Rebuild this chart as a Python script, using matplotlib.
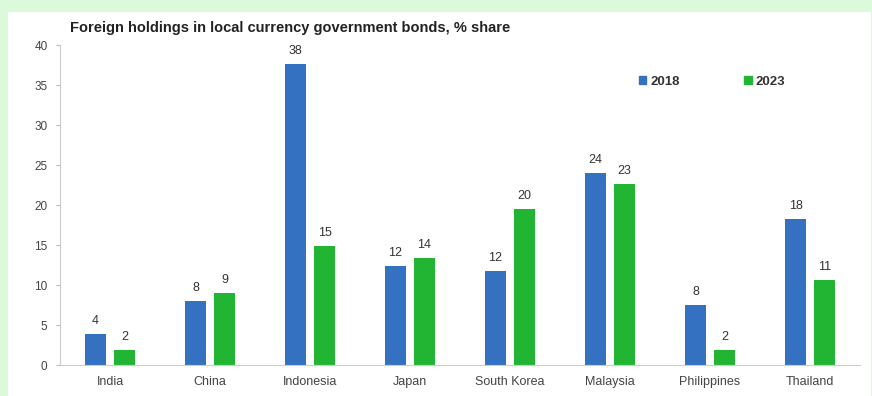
import matplotlib
matplotlib.use("Agg")
import matplotlib.pyplot as plt
from matplotlib.patches import Rectangle, Patch

plt.rcParams['font.family'] = ['Liberation Sans', 'DejaVu Sans']

categories = ["India", "China", "Indonesia", "Japan", "South Korea", "Malaysia", "Philippines", "Thailand"]
values_2018 = [3.9, 8.0, 37.6, 12.4, 11.7, 24.0, 7.5, 18.3]
values_2023 = [1.9, 9.0, 14.9, 13.4, 19.5, 22.6, 1.9, 10.6]
labels_2018 = ["4", "8", "38", "12", "12", "24", "8", "18"]
labels_2023 = ["2", "9", "15", "14", "20", "23", "2", "11"]
series_names = ["2018", "2023"]
yticks = [0, 5, 10, 15, 20, 25, 30, 35, 40]

W, H = 872, 396
fig = plt.figure(figsize=(W / 100, H / 100), dpi=100)
fig.patch.set_facecolor("#dcf9dc")
fig.patches.append(Rectangle((8 / W, 0), 1 - 9 / W, 1 - 12 / H, transform=fig.transFigure,
                             facecolor="white", edgecolor="none", zorder=-10))

ax = fig.add_axes([60 / W, 1 - 365 / H, 800 / W, 320 / H])
ax.set_facecolor("none")
ax.set_zorder(1)

blue = "#3571c1"
green = "#22b534"
width = 0.21
off = 0.145
x = list(range(len(categories)))

b1 = ax.bar([i - off for i in x], values_2018, width, color=blue)
b2 = ax.bar([i + off for i in x], values_2023, width, color=green)

for i in x:
    ax.annotate(labels_2018[i], (i - off, values_2018[i]), xytext=(0, 5), textcoords="offset points",
                ha="center", va="bottom", fontsize=9, color="#333333")
    ax.annotate(labels_2023[i], (i + off, values_2023[i]), xytext=(0, 5), textcoords="offset points",
                ha="center", va="bottom", fontsize=9, color="#333333")

ax.set_xlim(-0.5, len(categories) - 0.5)
ax.set_ylim(0, 40)
ax.set_yticks(yticks)
ax.set_xticks(x)
ax.set_xticklabels(categories)
ax.tick_params(axis="y", length=3, color="#bbbbbb", labelsize=8.5, labelcolor="#444444", pad=6)
ax.tick_params(axis="x", length=0, labelsize=9, labelcolor="#444444", pad=8)
for s in ["top", "right"]:
    ax.spines[s].set_visible(False)
for s in ["left", "bottom"]:
    ax.spines[s].set_color("#cccccc")
    ax.spines[s].set_linewidth(0.8)

leg = ax.legend([Patch(color=blue), Patch(color=green)], series_names, ncol=2,
                loc="upper left", bbox_to_anchor=((639 - 60) / 800, 1 - (76 - 45) / 320),
                frameon=False, handlelength=0.55, handleheight=0.55, handletextpad=0.3,
                columnspacing=4.9, borderaxespad=0, borderpad=0,
                prop={"weight": "bold", "size": 9.5})
for t in leg.get_texts():
    t.set_color("#333333")

fig.text(70 / W, 1 - 28 / H, "Foreign holdings in local currency government bonds, % share",
         fontsize=10.5, fontweight="bold", color="#222222", va="center", ha="left")

fig.savefig("out.png", dpi=100, facecolor=fig.get_facecolor())
